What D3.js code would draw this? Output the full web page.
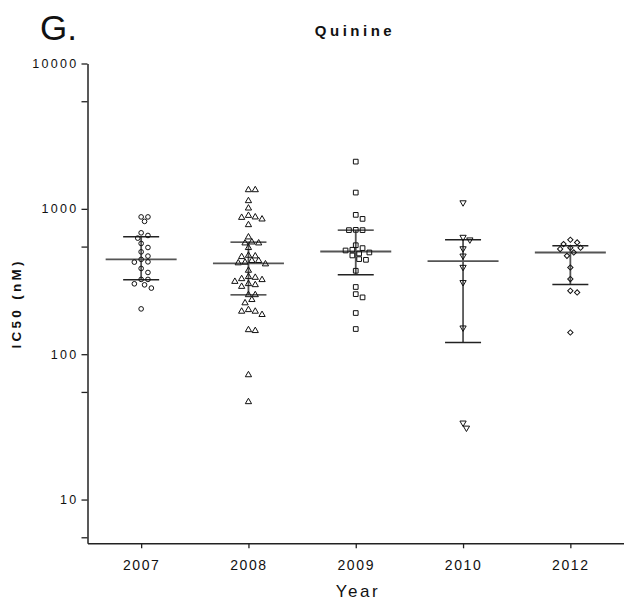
<!DOCTYPE html>
<html><head><meta charset="utf-8">
<script src="https://cdn.jsdelivr.net/npm/d3@7"></script>
<style>
body{margin:0;background:#fff}
svg{display:block}
text{font-family:"Liberation Sans",Arial,Helvetica,sans-serif}
</style>
</head><body>
<svg id="c" width="624" height="602"></svg>
<script>
// ---- data ----
const years = ["2007", "2008", "2009", "2010", "2012"];
const ic2007 = [880, 820, 880, 684, 656, 629, 578, 542, 506, 473, 449, 430, 432, 389, 365, 327, 327, 300, 305, 285, 205];
const ic2008 = [1350, 1350, 1135, 1010, 871, 899, 849, 877, 776, 639, 581, 581, 590, 540, 478, 473, 440, 428, 417, 424, 440, 468, 377, 330, 341, 337, 305, 292, 300, 316, 325, 256, 256, 225, 237, 202, 197, 187, 197, 145, 147, 72, 47];
const ic2009 = [2113, 1294, 909, 853, 714, 714, 717, 562, 523, 493, 501, 517, 537, 478, 451, 446, 375, 290, 259, 246, 192, 149];
const ic2010 = [1104, 639, 613, 533, 475, 397, 312, 152, 31.1, 33.7];
const ic2012 = [613, 572, 587, 540, 529, 540, 501, 475, 395, 329, 273, 266, 141];
const medians = [449, 421, 509, 437, 501];
const q1 = [325, 256, 352, 120.5, 302];
const q3 = [643, 590, 714, 613, 557];
const yTickValues = [10, 100, 1000, 10000];
const yMinorTickValues = [5.5, 55, 550, 5500];
const title = "Quinine";
const panelLabel = "G.";
const xTitle = "Year";
const yTitle = "IC50 (nM)";

(function () {
// ---- layout ----
const svg = d3.select("#c");
const mLeft = 87.5, mRight = 624, mTop = 63.5, mBottom = 543.3;
const x = d3.scalePoint().domain(years).range([mLeft, mRight]).padding(0.5);
const y = d3.scaleLog().domain([5, 10000]).range([mBottom, mTop]);

const groups = [ic2007, ic2008, ic2009, ic2010, ic2012];
const shapes = ["circle", "triUp", "square", "triDown", "diamond"];

// axes
const yAxis = svg.append("g").attr("transform", `translate(${mLeft},0)`)
  .call(d3.axisLeft(y).tickValues(yTickValues).tickFormat(d3.format("d")).tickSize(6).tickSizeOuter(0).tickPadding(3));
yAxis.selectAll("text").attr("font-size", 12.5).attr("letter-spacing", 2.3).attr("fill", "#111")
  .attr("font-family", "'Liberation Sans', Arial, sans-serif");
const yMinor = svg.append("g").attr("transform", `translate(${mLeft},0)`)
  .call(d3.axisLeft(y).tickValues(yMinorTickValues).tickFormat("").tickSize(6).tickSizeOuter(0));
yMinor.select(".domain").remove();

const xAxis = svg.append("g").attr("transform", `translate(0,${mBottom})`)
  .call(d3.axisBottom(x).tickSize(5).tickSizeOuter(0).tickPadding(11.7));
xAxis.selectAll("text").attr("font-size", 14).attr("letter-spacing", 1.6).attr("fill", "#111")
  .attr("font-family", "'Liberation Sans', Arial, sans-serif");

svg.selectAll(".domain").attr("stroke", "#222").attr("stroke-width", 1.5);
svg.selectAll(".tick line").attr("stroke", "#222").attr("stroke-width", 1.3);

// titles
svg.append("text").attr("x", 40).attr("y", 40).attr("font-size", 35).attr("fill", "#111").text(panelLabel);
svg.append("text").attr("x", 355).attr("y", 36).attr("text-anchor", "middle")
  .attr("font-size", 15).attr("font-weight", "bold").attr("letter-spacing", 3.5).attr("fill", "#111").text(title);
svg.append("text").attr("x", 358).attr("y", 597).attr("text-anchor", "middle")
  .attr("font-size", 17).attr("letter-spacing", 2.5).attr("fill", "#111").text(xTitle);
svg.append("text").attr("transform", `translate(20.5,${(mTop + mBottom) / 2}) rotate(-90)`)
  .attr("text-anchor", "middle").attr("font-size", 13.5).attr("font-weight", "bold")
  .attr("letter-spacing", 3.3).attr("fill", "#111").text(yTitle);

// median + IQR
const medHalf = 35.5, capHalf = 18;
years.forEach((yr, i) => {
  const cx = x(yr);
  const g = svg.append("g");
  g.append("line").attr("x1", cx).attr("x2", cx).attr("y1", y(q1[i])).attr("y2", y(q3[i]))
    .attr("stroke", "#555").attr("stroke-width", 1.8);
  g.append("line").attr("x1", cx - medHalf).attr("x2", cx + medHalf).attr("y1", y(medians[i])).attr("y2", y(medians[i]))
    .attr("stroke", "#555").attr("stroke-width", 1.8);
  [q1[i], q3[i]].forEach(v => {
    g.append("line").attr("x1", cx - capHalf).attr("x2", cx + capHalf).attr("y1", y(v)).attr("y2", y(v))
      .attr("stroke", "#222").attr("stroke-width", 1.4);
  });
});

// beeswarm placement (deterministic)
function swarm(vals, cx, step, minDist) {
  const idx = vals.map((v, i) => i).sort((a, b) => vals[b] - vals[a]);
  const placed = [];
  const out = new Array(vals.length);
  for (const i of idx) {
    const py = y(vals[i]);
    for (let k = 0; k < 60; k++) {
      const off = (k === 0 ? 0 : (k % 2 ? 1 : -1) * Math.ceil(k / 2)) * step;
      const px = cx + off;
      if (placed.every(p => Math.hypot(p[0] - px, p[1] - py) >= minDist)) {
        placed.push([px, py]); out[i] = [px, py]; break;
      }
    }
  }
  return out;
}

function symbolPath(shape) {
  switch (shape) {
    case "circle": return d3.symbol(d3.symbolCircle, 17)();
    case "square": return d3.symbol(d3.symbolSquare, 22)();
    case "triUp": return d3.symbol(d3.symbolTriangle, 17)();
    case "triDown": return d3.symbol(d3.symbolTriangle, 17)();
    case "diamond": return d3.symbol(d3.symbolSquare, 14)();
  }
}
function symbolRot(shape) {
  return shape === "triDown" ? 180 : (shape === "diamond" ? 45 : 0);
}

groups.forEach((vals, i) => {
  const pos = swarm(vals, x(years[i]), 3.4, 5.6);
  const sh = shapes[i];
  svg.append("g").selectAll("path").data(vals).join("path")
    .attr("d", symbolPath(sh))
    .attr("transform", (d, j) => `translate(${pos[j][0]},${pos[j][1]}) rotate(${symbolRot(sh)})`)
    .attr("fill", "none").attr("stroke", "#111").attr("stroke-width", 1);
});
})();
</script>
</body></html>
